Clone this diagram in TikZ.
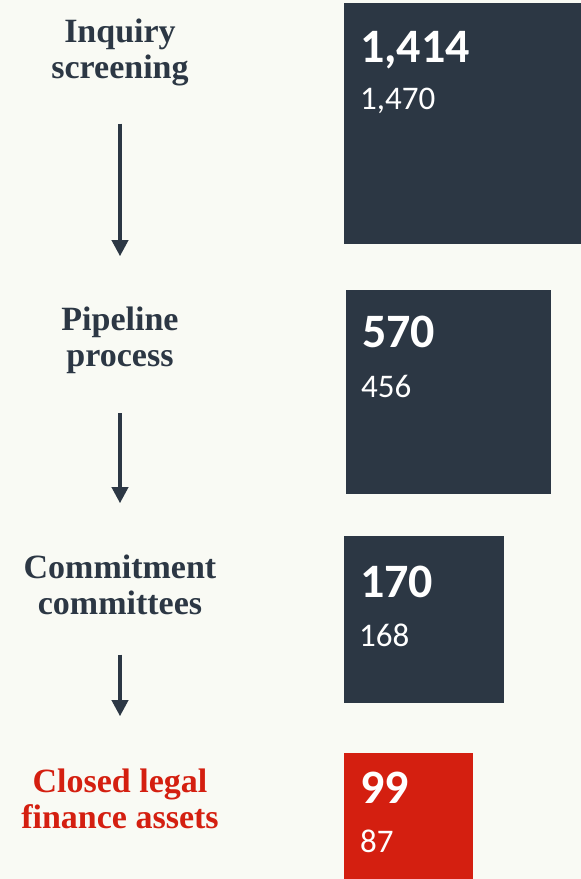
\documentclass[tikz,border=0pt]{standalone}
\usepackage{fontspec}
\setmainfont{Liberation Serif}
\newfontfamily\numfont{Carlito}
\usepackage{xcolor}
\usepackage{tikz}
\usetikzlibrary{arrows.meta}

\definecolor{navy}{HTML}{2C3744}
\definecolor{closedred}{HTML}{D41F10}
\definecolor{pagebg}{HTML}{F9FAF4}

\begin{document}
\begin{tikzpicture}[x=1pt,y=1pt,
    stagebox/.style={fill=#1,draw=none,inner sep=0pt,outer sep=0pt,anchor=north west},
    stagelabel/.style={font=\fontsize{34}{36}\selectfont\bfseries,text=#1,align=center,inner sep=0pt,anchor=base},
    bignum/.style={font=\numfont\fontsize{48}{50}\selectfont\bfseries,text=white,inner sep=0pt,anchor=base west},
    smallnum/.style={font=\numfont\fontsize{33}{36}\selectfont,text=white,inner sep=0pt,anchor=base west},
    flow/.style={draw=navy,line width=3.6pt,-{Triangle[width=16pt,length=16pt]}}]
      \fill[pagebg] (0,0) rectangle (581,-879);
      \useasboundingbox (0,0) rectangle (581,-879);

      % stage names on the left (base = baseline of the second line)
      \node[stagelabel=navy](inquiry) at (120,-78) {Inquiry\\screening};
      \node[stagelabel=navy](pipeline) at (120,-366) {Pipeline\\process};
      \node[stagelabel=navy](commit) at (120,-614) {Commitment\\committees};
      \node[stagelabel=closedred](closed) at (120,-828) {Closed legal\\finance assets};

      \draw[flow,shorten <=38pt,shorten >=50pt] (inquiry) -- (pipeline);
      \draw[flow,shorten <=40pt,shorten >=51pt] (pipeline) -- (commit);
      \draw[flow,shorten <=40pt,shorten >=52pt] (commit) -- (closed);

      % counts on the right
      \node[stagebox=navy,minimum width=237pt,minimum height=241pt](inquirybox) at (344,-3) {};
      \node[bignum](inquirynew) at (360,-62) {1,414};
      \node[smallnum](inquiryold) at (360,-109) {1,470};

      \node[stagebox=navy,minimum width=205pt,minimum height=204pt](pipelinebox) at (346,-290) {};
      \node[bignum](pipelinenew) at (362,-347) {570};
      \node[smallnum](pipelineold) at (361,-397) {456};

      \node[stagebox=navy,minimum width=160pt,minimum height=167pt](commitbox) at (344,-536) {};
      \node[bignum](commitnew) at (360,-597) {170};
      \node[smallnum](commitold) at (359,-646) {168};

      \node[stagebox=closedred,minimum width=129pt,minimum height=126pt](closedbox) at (344,-753) {};
      \node[bignum](closednew) at (360,-803) {99};
      \node[smallnum](closedold) at (360,-852) {87};
    \end{tikzpicture}
\end{document}
